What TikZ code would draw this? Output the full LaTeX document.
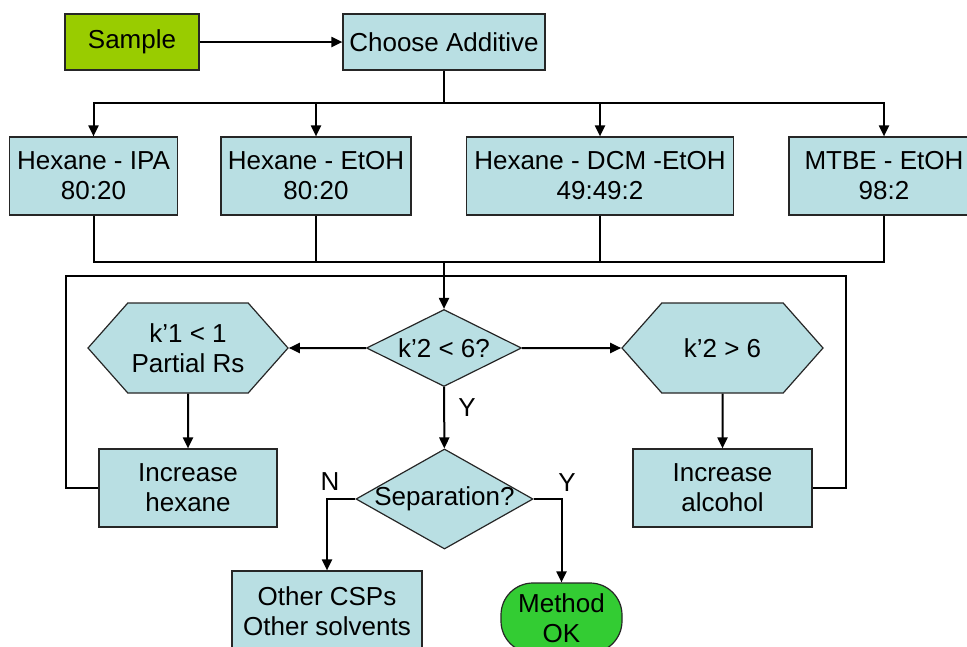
\documentclass[tikz,border=0pt]{standalone}
\usepackage{fontspec}
\setmainfont{Liberation Sans}
\definecolor{FlowBlue}{HTML}{B9DFE3}
\definecolor{FlowLime}{HTML}{99CC00}
\definecolor{FlowGreen}{HTML}{33CC33}
\usetikzlibrary{shapes.geometric, shapes.symbols, arrows.meta, positioning}

\tikzset{
   box/.style={draw=black!85, line width=1.2pt, fill=FlowBlue, align=center, inner sep=0pt},
   hexa/.style={box, signal, signal to=east and west, signal pointer angle=97},
   decision/.style={box, diamond, aspect=2},
   link/.style={line width=2pt},
   arr/.style={link, -{Triangle[length=11pt,width=10pt]}}
}

\begin{document}
\begin{tikzpicture}[x=1pt, y=-1pt, font=\fontsize{26}{30}\selectfont]
            \useasboundingbox (0,0) rectangle (967,646);
            % Top row
            \node[box, fill=FlowLime, minimum width=134, minimum height=56] (sample) at (132,42) {Sample};
            \node[box, minimum width=202, minimum height=56] (choose) at (444,42) {Choose Additive};
            % Solvent mixtures
            \node[box, minimum width=168, minimum height=78] (ipa) at (93.5,176) {Hexane - IPA\\80:20};
            \node[box, minimum width=190, minimum height=78] (etoh) at (316,176) {Hexane - EtOH\\80:20};
            \node[box, minimum width=267, minimum height=78] (dcm) at (600,176) {Hexane - DCM -EtOH\\49:49:2};
            \node[box, minimum width=190, minimum height=78] (mtbe) at (884,176) {MTBE - EtOH\\98:2};
            % Retention checks
            \node[decision, minimum width=155, minimum height=77] (k2) at (444,348) {k’2 < 6?};
            \node[hexa, minimum width=200, minimum height=90] (hexl) at (188,348) {k’1 < 1\\Partial Rs};
            \node[hexa, minimum width=201, minimum height=90] (hexr) at (722.5,348) {k’2 > 6};
            \node[box, minimum width=178, minimum height=78] (inchex) at (188,488) {Increase\\hexane};
            \node[box, minimum width=179, minimum height=78] (incalc) at (722.5,488) {Increase\\alcohol};
            % Separation
            \node[decision, aspect=1.77, inner xsep=-3pt, minimum width=177, minimum height=100] (sep) at (444.5,499) {Separation?};
            \node[box, minimum width=190, minimum height=81] (other) at (327,611.5) {Other CSPs\\Other solvents};
            \node[box, fill=FlowGreen, rounded corners=32pt, minimum width=121, minimum height=70] (method) at (561.5,618) {Method\\OK};
            % Branch labels
            \node (ylab) at (467,408) {Y};
            \node (nlab) at (330,482) {N};
            \node (ylab2) at (567,483) {Y};
            % Junction points
            \coordinate (split) at (444,103);
            \coordinate (merge) at (444,262);
            \coordinate (loopl) at (66,276);
            \coordinate (loopr) at (846,276);
            % Connectors
            \draw[arr] (sample) -- (choose);
            \draw[link] (choose) -- (split);
            \foreach \n in {ipa, etoh, dcm, mtbe}
               \draw[arr] (split) -| (\n);
            \foreach \n in {ipa, etoh, dcm, mtbe}
               \draw[link] (\n) |- (merge);
            \draw[arr] (merge) -- (k2);
            \draw[link] (inchex.west) -| (loopl) -- (loopr) |- (incalc.east);
            \draw[arr] (k2) -- (hexl);
            \draw[arr] (k2) -- (hexr);
            \draw[arr] (hexl) -- (inchex);
            \draw[arr] (hexr) -- (incalc);
            \draw[arr] (k2) -- (sep);
            \draw[arr] (sep.west) -| (other);
            \draw[arr] (sep.east) -| (method);
\end{tikzpicture}
\end{document}
